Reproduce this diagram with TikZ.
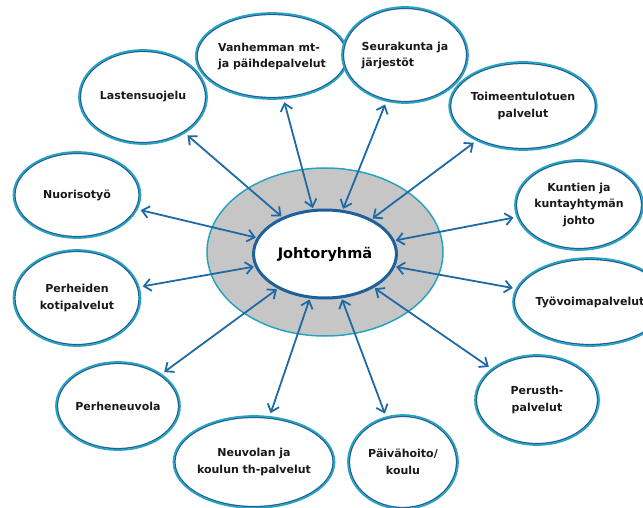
\documentclass[tikz,border=0pt]{standalone}
\usepackage{fontspec}
\setmainfont{DejaVu Sans}
\usetikzlibrary{shapes.geometric,arrows.meta,calc}
\definecolor{tealc}{HTML}{27A3BE}
\definecolor{darkb}{HTML}{1F5F9A}
\definecolor{arrowc}{HTML}{1F6AA5}
\definecolor{ringgray}{HTML}{C6C6C6}
\tikzset{
  sat/.style={ellipse, draw=tealc, line width=1.7pt, fill=white, inner sep=0pt,
    align=center, font=\bfseries\fontsize{11}{16.5}\selectfont, text=black!90,
    path picture={\draw[darkb,line width=1.4pt] let \p1=(path picture bounding box.north east), \p2=(path picture bounding box.south west) in (path picture bounding box.center) ellipse ({(\x1-\x2)/2-1.4pt} and {(\y1-\y2)/2-1.4pt});}},
  arr/.style={draw=arrowc, line width=1.8pt, shorten >=1pt, shorten <=3pt,
    {Straight Barb[length=7pt,width=12pt]}-{Straight Barb[length=7pt,width=12pt]}}
}
\newcommand{\satnode}[6]{\node[sat, minimum width=#4pt, minimum height=#5pt] (#1) at (#2,#3) {#6};}
\begin{document}
\begin{tikzpicture}[x=1pt,y=-1pt]
\useasboundingbox (0,0) rectangle (643,508);
\clip (0,0) rectangle (643,508);
\node[ellipse, draw=tealc, line width=1.5pt, fill=ringgray, minimum width=236pt, minimum height=168pt] (ring) at (325,252) {};
\node[ellipse, draw=darkb, line width=3pt, fill=white, minimum width=130pt, minimum height=88pt, font=\bfseries\fontsize{14.5}{17}\selectfont] (core) at (325,254) {Johtoryhmä};
\satnode{lasten}{143}{97}{128}{94}{Lastensuojelu}
\satnode{vanh}{272}{56}{128}{86}{\begin{tabular}{@{}l@{}}Vanhemman mt-\\ja päihdepalvelut\end{tabular}}
\satnode{seura}{405}{55}{126}{96}{\begin{tabular}{@{}l@{}}Seurakunta ja\\järjestöt\end{tabular}}
\satnode{toim}{523}{106}{127}{88}{Toimeentulotuen\\palvelut}
\satnode{kunt}{579}{205}{128}{90}{Kuntien ja\\kuntayhtymän\\johto}
\satnode{tyo}{590}{302}{124}{88}{Työvoimapalvelut}
\satnode{perus}{537}{400}{124}{90}{Perusth-\\palvelut}
\satnode{paiva}{403}{462}{110}{94}{Päivähoito/\\koulu}
\satnode{neuv}{254}{462}{124}{92}{Neuvolan ja\\koulun th-palvelut}
\satnode{pneuv}{118}{406}{124}{88}{Perheneuvola}
\satnode{koti}{77}{298}{127}{96}{Perheiden\\kotipalvelut}
\satnode{nuor}{77}{195}{127}{86}{Nuorisotyö}
\foreach \s in {lasten,vanh,seura,toim,kunt,tyo,perus,paiva,neuv,pneuv,koti,nuor}
  \draw[arr] (\s) -- (core);
\end{tikzpicture}
\end{document}
